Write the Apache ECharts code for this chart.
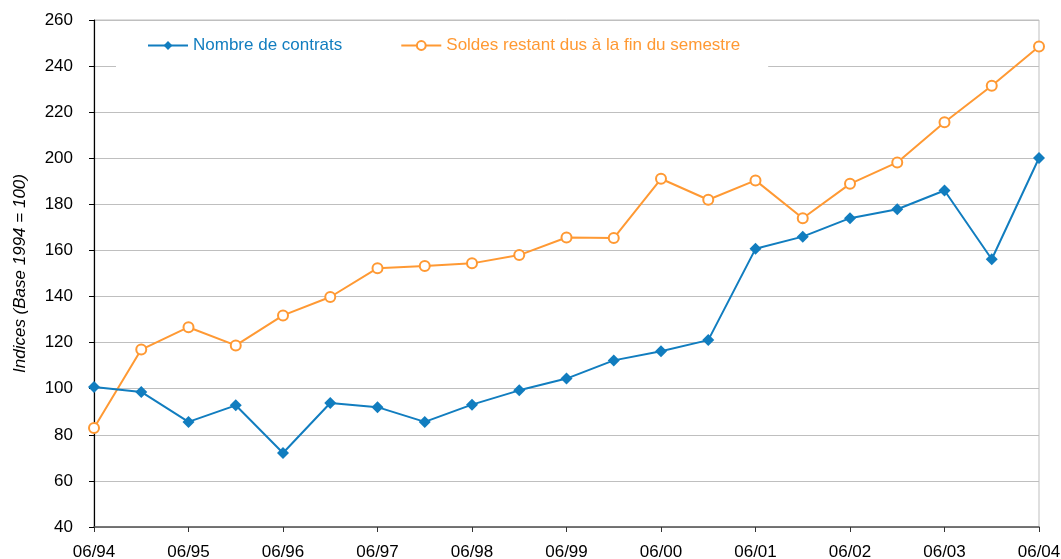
<!DOCTYPE html>
<html>
<head>
<meta charset="utf-8">
<title>Indices</title>
<script src="https://cdn.jsdelivr.net/npm/echarts@6/dist/echarts.min.js"></script>
<style>
  html, body { margin: 0; padding: 0; background: #fff; }
  #chart { width: 1061px; height: 559px; }
</style>
</head>
<body>
<div id="chart"></div>
<script>
// semestres, de 06/94 à 06/04
const categories = [
  "06/94", "12/94", "06/95", "12/95", "06/96", "12/96", "06/97", "12/97",
  "06/98", "12/98", "06/99", "12/99", "06/00", "12/00", "06/01", "12/01",
  "06/02", "12/02", "06/03", "12/03", "06/04",
];
const nombreContrats = [
  100.8, 98.6, 85.6, 92.8, 72.1, 93.8, 92, 85.6, 93.1, 99.3, 104.4,
  112.3, 116.3, 121.1, 160.7, 166, 174, 177.9, 186, 156.2, 200.1,
];
const soldesRestant = [
  83, 117, 126.7, 118.8, 131.8, 139.8, 152.3, 153.3, 154.4, 158, 165.6,
  165.4, 191.1, 182, 190.4, 174, 188.9, 198.2, 215.6, 231.5, 248.5,
];
const yTicks = { min: 40, max: 260, interval: 20 };

const chart = echarts.init(document.getElementById("chart"));

chart.setOption({
  animation: false,
  textStyle: { fontFamily: "Liberation Sans, Arial, sans-serif" },
  grid: {
    left: 94,
    right: 22,
    top: 20,
    bottom: 32,
    outerBoundsMode: "none",
    show: true,
    borderColor: "#BFBFBF",
    borderWidth: 1,
  },
  legend: {
    left: 116,
    top: 27,
    padding: [10, 28, 13, 31],
    itemGap: 58,
    itemWidth: 40,
    itemHeight: 11,
    backgroundColor: "#fff",
    textStyle: { fontSize: 17 },
    data: [
      { name: "Nombre de contrats", textStyle: { color: "#117DBF" } },
      { name: "Soldes restant dus à la fin du semestre", textStyle: { color: "#FF9933" } },
    ],
  },
  xAxis: {
    type: "category",
    data: categories,
    boundaryGap: false,
    axisLine: { lineStyle: { color: "#555", width: 1.5 } },
    axisTick: { interval: 1, length: 5, lineStyle: { color: "#333" } },
    axisLabel: { interval: 1, color: "#000", fontSize: 17, margin: 17 },
  },
  yAxis: {
    type: "value",
    min: yTicks.min,
    max: yTicks.max,
    interval: yTicks.interval,
    name: "Indices (Base 1994 = 100)",
    nameLocation: "middle",
    nameGap: 65,
    nameTextStyle: { fontStyle: "italic", fontSize: 17, color: "#000" },
    axisLine: { show: true, lineStyle: { color: "#000", width: 1.2 } },
    axisTick: { show: true, length: 5, lineStyle: { color: "#000" } },
    axisLabel: { color: "#000", fontSize: 17, margin: 21 },
    splitLine: { lineStyle: { color: "#BFBFBF", width: 1.2 } },
  },
  series: [
    {
      name: "Nombre de contrats",
      type: "line",
      data: nombreContrats,
      symbol: "diamond",
      symbolSize: 12,
      lineStyle: { color: "#117DBF", width: 2 },
      itemStyle: { color: "#117DBF" },
      z: 3,
    },
    {
      name: "Soldes restant dus à la fin du semestre",
      type: "line",
      data: soldesRestant,
      symbol: "emptyCircle",
      symbolSize: 10,
      lineStyle: { color: "#FF9933", width: 2 },
      itemStyle: { color: "#FF9933", borderWidth: 1.8 },
      z: 2,
    },
  ],
});
</script>
</body>
</html>
